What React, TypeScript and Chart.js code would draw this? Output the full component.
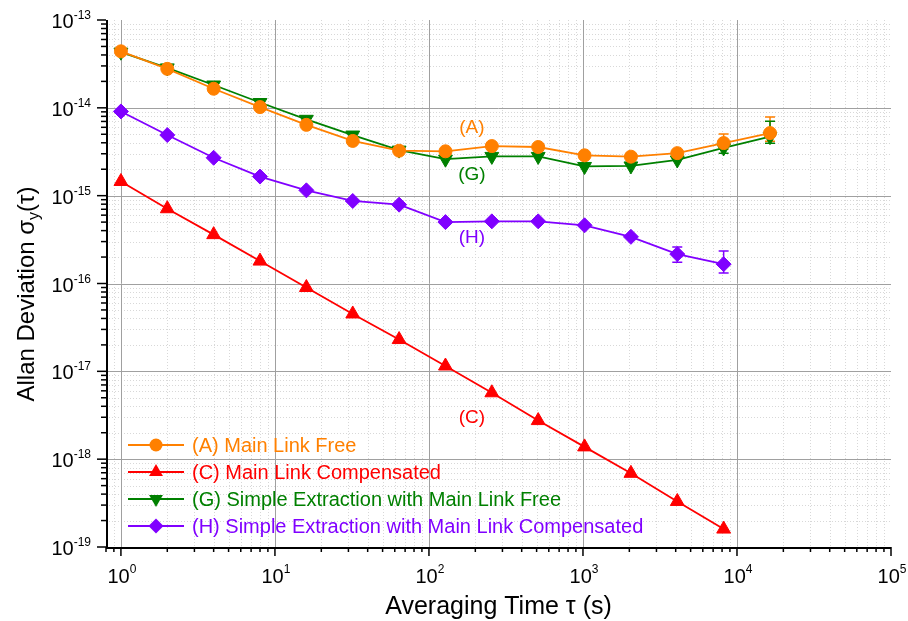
import React, { useEffect, useRef } from "react";
import { Chart, registerables } from "chart.js";

Chart.register(...registerables);

// ---------------- data ----------------
const tauLong = [1, 2, 4, 8, 16, 32, 64, 128, 256, 512, 1024, 2048, 4096, 8192, 16384];
const tauShort = [1, 2, 4, 8, 16, 32, 64, 128, 256, 512, 1024, 2048, 4096, 8192];

const devA = [4.4e-14, 2.78e-14, 1.65e-14, 1.02e-14, 6.4e-15, 4.2e-15, 3.25e-15, 3.2e-15, 3.67e-15, 3.58e-15, 2.88e-15, 2.78e-15, 3.05e-15, 3.97e-15, 5.16e-15];
const errUpA = [null, null, null, null, null, null, null, null, null, null, null, null, null, 1.05e-15, 2.7e-15];
const errDnA = [null, null, null, null, null, null, null, null, null, null, null, null, null, 0.6e-15, 1.0e-15];

const devC = [1.45e-15, 7.1e-16, 3.6e-16, 1.8e-16, 9.0e-17, 4.5e-17, 2.3e-17, 1.15e-17, 5.7e-18, 2.75e-18, 1.38e-18, 6.9e-19, 3.3e-19, 1.6e-19];

const devG = [4.3e-14, 2.85e-14, 1.82e-14, 1.15e-14, 7.4e-15, 4.9e-15, 3.3e-15, 2.6e-15, 2.8e-15, 2.8e-15, 2.15e-15, 2.18e-15, 2.55e-15, 3.5e-15, 4.7e-15];
const errUpG = [null, null, null, null, null, null, null, null, null, null, null, null, null, 0.5e-15, 2.35e-15];
const errDnG = [null, null, null, null, null, null, null, null, null, null, null, null, null, 0.45e-15, 0.75e-15];

const devH = [9.1e-15, 4.9e-15, 2.7e-15, 1.65e-15, 1.15e-15, 8.7e-16, 7.9e-16, 5.0e-16, 5.1e-16, 5.1e-16, 4.6e-16, 3.4e-16, 2.16e-16, 1.66e-16];
const errUpH = [null, null, null, null, null, null, null, null, null, null, null, null, 0.44e-16, 0.68e-16];
const errDnH = [null, null, null, null, null, null, null, null, null, null, null, null, 0.41e-16, 0.34e-16];

const seriesLabels = [
  "(A) Main Link Free",
  "(C) Main Link Compensated",
  "(G) Simple Extraction with Main Link Free",
  "(H) Simple Extraction with Main Link Compensated",
];
const seriesColors = ["#FF8000", "#FF0000", "#008000", "#8000FF"];
const seriesMarkers = ["circle", "triUp", "triDown", "diamond"];

const curveTags = ["(A)", "(C)", "(G)", "(H)"];
const tagTau = [190, 190, 190, 190];
const tagDev = [6.0e-15, 2.93e-18, 1.72e-15, 3.3e-16];

const xTickExps = [0, 1, 2, 3, 4, 5];
const yTickExps = [-19, -18, -17, -16, -15, -14, -13];
const xMin = 0.8;
const xMax = 1e5;
const yMin = 1e-19;
const yMax = 1e-13;

const xTitle = "Averaging Time τ (s)";
const yTitleMain = "Allan Deviation σ";
const yTitleSub = "y";
const yTitleEnd = "(τ)";

const FONT = 'Arial, "Liberation Sans", sans-serif';

// ---------------- helpers ----------------
function markerPath(ctx: CanvasRenderingContext2D, kind: string, x: number, y: number, r: number) {
  ctx.beginPath();
  if (kind === "circle") {
    ctx.arc(x, y, r, 0, Math.PI * 2);
  } else if (kind === "triUp") {
    ctx.moveTo(x, y - r);
    ctx.lineTo(x + r * 0.866, y + r * 0.5);
    ctx.lineTo(x - r * 0.866, y + r * 0.5);
    ctx.closePath();
  } else if (kind === "triDown") {
    ctx.moveTo(x, y + r);
    ctx.lineTo(x + r * 0.866, y - r * 0.5);
    ctx.lineTo(x - r * 0.866, y - r * 0.5);
    ctx.closePath();
  } else {
    ctx.moveTo(x, y - r);
    ctx.lineTo(x + r, y);
    ctx.lineTo(x, y + r);
    ctx.lineTo(x - r, y);
    ctx.closePath();
  }
}

const errSets = [
  { tau: tauLong, dev: devA, up: errUpA, dn: errDnA, color: seriesColors[0] },
  { tau: tauLong, dev: devG, up: errUpG, dn: errDnG, color: seriesColors[2] },
  { tau: tauShort, dev: devH, up: errUpH, dn: errDnH, color: seriesColors[3] },
];

const customPlugin = {
  id: "customOrigin",
  beforeDatasetsDraw(chart: any) {
    const ctx: CanvasRenderingContext2D = chart.ctx;
    const xs = chart.scales.x;
    const ys = chart.scales.y;
    const { left, right, top, bottom } = chart.chartArea;
    ctx.save();
    // minor grid
    ctx.strokeStyle = "#d8d8d8";
    ctx.lineWidth = 1;
    ctx.setLineDash([1, 2]);
    for (let d = -1; d <= 4; d++) {
      for (let m = 2; m <= 9; m++) {
        const v = m * Math.pow(10, d);
        if (v < xMin || v > xMax) continue;
        const px = Math.round(xs.getPixelForValue(v)) + 0.5;
        ctx.beginPath();
        ctx.moveTo(px, top);
        ctx.lineTo(px, bottom);
        ctx.stroke();
      }
    }
    for (let d = -19; d <= -14; d++) {
      for (let m = 2; m <= 9; m++) {
        const v = m * Math.pow(10, d);
        const py = Math.round(ys.getPixelForValue(v)) + 0.5;
        ctx.beginPath();
        ctx.moveTo(left, py);
        ctx.lineTo(right, py);
        ctx.stroke();
      }
    }
    // major grid
    ctx.setLineDash([]);
    ctx.strokeStyle = "#a0a0a0";
    ctx.lineWidth = 1;
    xTickExps.forEach((e) => {
      const v = Math.pow(10, e);
      if (v >= xMax) return;
      const px = Math.round(xs.getPixelForValue(v)) + 0.5;
      ctx.beginPath();
      ctx.moveTo(px, top);
      ctx.lineTo(px, bottom);
      ctx.stroke();
    });
    yTickExps.forEach((e) => {
      const v = Math.pow(10, e);
      if (v <= yMin || v >= yMax) return;
      const py = Math.round(ys.getPixelForValue(v)) + 0.5;
      ctx.beginPath();
      ctx.moveTo(left, py);
      ctx.lineTo(right, py);
      ctx.stroke();
    });
    // error bars
    ctx.lineWidth = 1.5;
    errSets.forEach((s) => {
      ctx.strokeStyle = s.color;
      s.tau.forEach((t, i) => {
        const u = s.up[i];
        const dn = s.dn[i];
        if (u == null || dn == null) return;
        const px = xs.getPixelForValue(t);
        const pHi = ys.getPixelForValue(s.dev[i] + u);
        const pLo = ys.getPixelForValue(s.dev[i] - dn);
        ctx.beginPath();
        ctx.moveTo(px, pHi);
        ctx.lineTo(px, pLo);
        ctx.moveTo(px - 5, pHi);
        ctx.lineTo(px + 5, pHi);
        ctx.moveTo(px - 5, pLo);
        ctx.lineTo(px + 5, pLo);
        ctx.stroke();
      });
    });
    ctx.restore();
  },
  afterDraw(chart: any) {
    const ctx: CanvasRenderingContext2D = chart.ctx;
    const xs = chart.scales.x;
    const ys = chart.scales.y;
    const { left, right, top, bottom } = chart.chartArea;
    ctx.save();
    // axes lines
    ctx.strokeStyle = "#000";
    ctx.lineWidth = 2;
    ctx.beginPath();
    ctx.moveTo(left + 1, top);
    ctx.lineTo(left + 1, bottom + 1);
    ctx.lineTo(right, bottom + 1);
    ctx.stroke();
    // ticks
    ctx.lineWidth = 1.5;
    for (let d = -1; d <= 4; d++) {
      for (let m = 1; m <= 9; m++) {
        const v = m * Math.pow(10, d);
        if (v < xMin - 1e-9 || v > xMax) continue;
        const px = xs.getPixelForValue(v);
        const len = m === 1 ? 9 : 5;
        ctx.beginPath();
        ctx.moveTo(px, bottom);
        ctx.lineTo(px, bottom + len);
        ctx.stroke();
      }
    }
    {
      const px = xs.getPixelForValue(xMax);
      ctx.beginPath();
      ctx.moveTo(px, bottom);
      ctx.lineTo(px, bottom + 9);
      ctx.stroke();
    }
    for (let d = -19; d <= -13; d++) {
      for (let m = 1; m <= 9; m++) {
        const v = m * Math.pow(10, d);
        if (v > yMax * 1.0001) continue;
        const py = ys.getPixelForValue(v);
        const len = m === 1 ? 9 : 5;
        ctx.beginPath();
        ctx.moveTo(left, py);
        ctx.lineTo(left - len, py);
        ctx.stroke();
      }
    }
    // tick labels
    ctx.fillStyle = "#000";
    ctx.textBaseline = "alphabetic";
    const bigFont = `20px ${FONT}`;
    const supFont = `12px ${FONT}`;
    xTickExps.forEach((e) => {
      const px = xs.getPixelForValue(Math.pow(10, e));
      const sup = String(e);
      ctx.font = bigFont;
      const w1 = ctx.measureText("10").width;
      ctx.font = supFont;
      const w2 = ctx.measureText(sup).width;
      const x0 = px + 1 - (w1 + w2) / 2;
      ctx.font = bigFont;
      ctx.textAlign = "left";
      ctx.fillText("10", x0, 583);
      ctx.font = supFont;
      ctx.fillText(sup, x0 + w1, 573);
    });
    yTickExps.forEach((e) => {
      const py = ys.getPixelForValue(Math.pow(10, e));
      const sup = String(e);
      ctx.font = bigFont;
      const w1 = ctx.measureText("10").width;
      ctx.font = supFont;
      const w2 = ctx.measureText(sup).width;
      const x0 = 91 - w1 - w2;
      ctx.font = bigFont;
      ctx.textAlign = "left";
      ctx.fillText("10", x0, py + 8);
      ctx.font = supFont;
      ctx.fillText(sup, x0 + w1, py - 1);
    });
    // axis titles
    ctx.font = `25px ${FONT}`;
    ctx.textAlign = "center";
    ctx.fillText(xTitle, (left + right) / 2 + 0, 614);
    ctx.save();
    ctx.translate(34, 294);
    ctx.rotate(-Math.PI / 2);
    ctx.font = `24px ${FONT}`;
    const wa = ctx.measureText(yTitleMain).width;
    ctx.font = `16px ${FONT}`;
    const wb = ctx.measureText(yTitleSub).width;
    ctx.font = `24px ${FONT}`;
    const wc = ctx.measureText(yTitleEnd).width;
    let xx = -(wa + wb + wc) / 2;
    ctx.textAlign = "left";
    ctx.fillText(yTitleMain, xx, 0);
    xx += wa;
    ctx.font = `16px ${FONT}`;
    ctx.fillText(yTitleSub, xx, 5);
    xx += wb;
    ctx.font = `24px ${FONT}`;
    ctx.fillText(yTitleEnd, xx, 0);
    ctx.restore();

    // curve tags
    ctx.font = `19px ${FONT}`;
    ctx.textAlign = "center";
    ctx.textBaseline = "middle";
    curveTags.forEach((tag, i) => {
      ctx.fillStyle = seriesColors[i];
      ctx.fillText(tag, xs.getPixelForValue(tagTau[i]), ys.getPixelForValue(tagDev[i]));
    });

    // legend
    const rowY = [445, 472, 499, 526];
    seriesLabels.forEach((lab, i) => {
      const y = rowY[i];
      ctx.strokeStyle = seriesColors[i];
      ctx.fillStyle = seriesColors[i];
      ctx.lineWidth = 1.8;
      ctx.beginPath();
      ctx.moveTo(128, y);
      ctx.lineTo(184, y);
      ctx.stroke();
      const r = seriesMarkers[i] === "circle" ? 6.5 : seriesMarkers[i] === "diamond" ? 7.5 : 8;
      markerPath(ctx, seriesMarkers[i], 156, y, r);
      ctx.fill();
      ctx.font = `20px ${FONT}`;
      ctx.textAlign = "left";
      ctx.textBaseline = "middle";
      ctx.fillText(lab, 192, y + 1);
    });
    ctx.restore();
  },
};

function toPoints(tau: number[], dev: number[]) {
  return tau.map((t, i) => ({ x: t, y: dev[i] }));
}

export default function App() {
  const ref = useRef<HTMLCanvasElement | null>(null);
  useEffect(() => {
    if (!ref.current) return;
    const common = { borderWidth: 1.8, tension: 0, showLine: true, clip: false as any, pointBorderWidth: 1 };
    const chart = new Chart(ref.current, {
      type: "line",
      data: {
        datasets: [
          {
            label: seriesLabels[0],
            data: toPoints(tauLong, devA),
            borderColor: seriesColors[0],
            backgroundColor: seriesColors[0],
            pointStyle: "circle",
            pointRadius: 6.5,
            ...common,
          },
          {
            label: seriesLabels[1],
            data: toPoints(tauShort, devC),
            borderColor: seriesColors[1],
            backgroundColor: seriesColors[1],
            pointStyle: "triangle",
            pointRadius: 8,
            ...common,
          },
          {
            label: seriesLabels[2],
            data: toPoints(tauLong, devG),
            borderColor: seriesColors[2],
            backgroundColor: seriesColors[2],
            pointStyle: "triangle",
            pointRotation: 180,
            pointRadius: 8,
            ...common,
          },
          {
            label: seriesLabels[3],
            data: toPoints(tauShort, devH),
            borderColor: seriesColors[3],
            backgroundColor: seriesColors[3],
            pointStyle: "rectRot",
            pointRadius: 7.5,
            ...common,
          },
        ],
      },
      options: {
        animation: false,
        responsive: false,
        devicePixelRatio: 1,
        layout: { padding: { left: 106, top: 20, right: 17, bottom: 74 } },
        plugins: { legend: { display: false }, tooltip: { enabled: false }, title: { display: false } },
        scales: {
          x: { type: "logarithmic", min: xMin, max: xMax, display: false },
          y: { type: "logarithmic", min: yMin, max: yMax, display: false },
        },
      },
      plugins: [customPlugin],
    } as any);
    return () => chart.destroy();
  }, []);
  return (
    <div style={{ position: "fixed", left: 0, top: 0, width: 908, height: 621, background: "#fff" }}>
      <canvas ref={ref} width={908} height={621} style={{ width: 908, height: 621, display: "block" }} />
    </div>
  );
}
